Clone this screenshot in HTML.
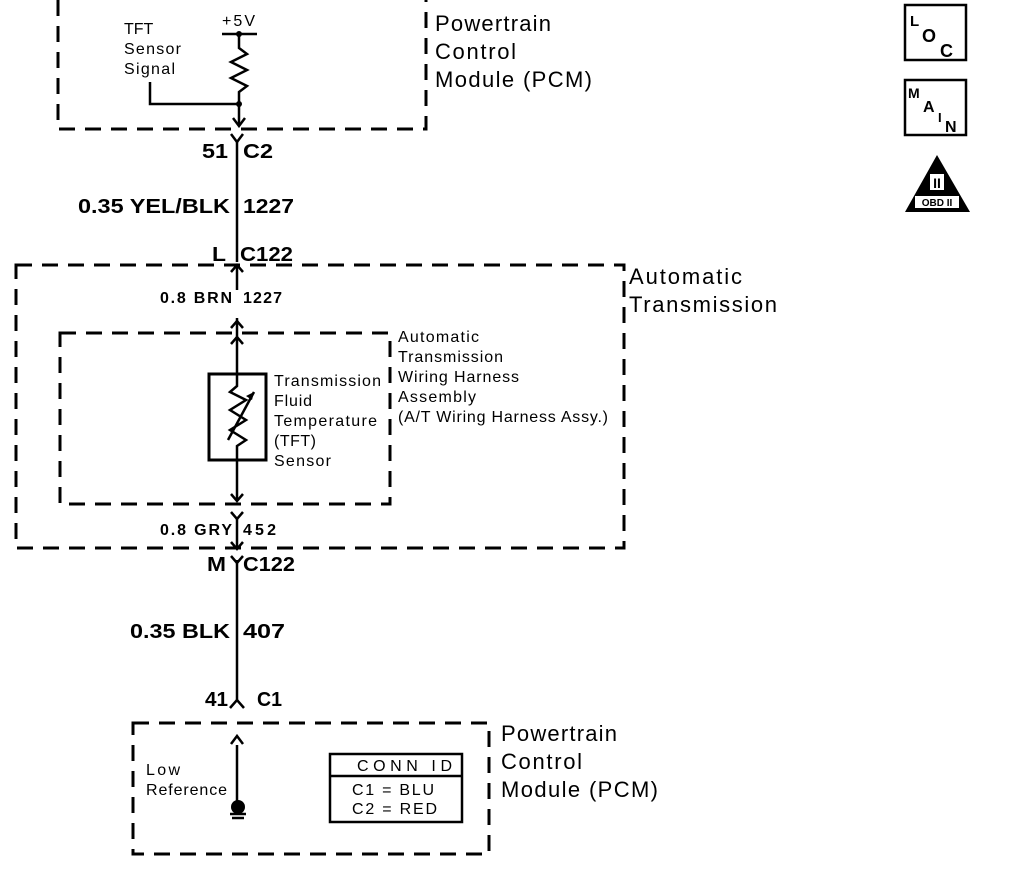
<!DOCTYPE html>
<html><head><style>body{margin:0;background:#fff}svg{display:block}text{font-family:"Liberation Sans",Arial,sans-serif;fill:#000}</style></head>
<body>
<svg width="1024" height="870" viewBox="0 0 1024 870" xmlns="http://www.w3.org/2000/svg">
<g fill="none" stroke="#000" stroke-width="3" stroke-dasharray="16,10">
<path d="M58,0 V129 H426 V0"/>
<rect x="16" y="265" width="608" height="283"/>
<rect x="60" y="333" width="330" height="171"/>
<rect x="133" y="723" width="356" height="131"/>
</g>
<g fill="none" stroke="#000" stroke-width="2.5">
<line x1="222" y1="34" x2="257" y2="34"/>
<path d="M239,34 V48 L247,54 L231,62 L247,70 L231,78 L247,86 L239,92 V104"/>
<path d="M150,82 V104 H239 V126"/>
<path d="M233,118 L239,126 L245,118"/>
<path d="M237,140 V262"/>
<path d="M231,134 L237,142 L243,134"/>
<path d="M231,272 L237,265 L243,272"/>
<path d="M237,265 V290"/>
<path d="M237,318 V374"/>
<path d="M231,328 L237,321 L243,328"/>
<path d="M231,344 L237,337 L243,344"/>
<rect x="209" y="374" width="57" height="86" stroke-width="3"/>
<path d="M237,374 V386 L230,392 L246,400 L230,410 L246,420 L230,430 L246,440 L237,446 V460"/>
<path d="M228,440 L254,392"/>
<path d="M237,460 V500"/>
<path d="M231,494 L237,501 L243,494"/>
<path d="M231,512 L237,519 L243,512"/>
<path d="M237,519 V548"/>
<path d="M231,542 L237,549 L243,542"/>
<path d="M231,556 L237,563 L243,556"/>
<path d="M237,560 V700"/>
<path d="M230,708 L237,700 L244,708"/>
<path d="M237,745 V802"/>
<path d="M231,744 L237,736 L243,744"/>
<line x1="230" y1="814" x2="246" y2="814"/>
<line x1="232" y1="818" x2="244" y2="818"/>
<rect x="330" y="754" width="132" height="68"/>
<line x1="330" y1="776" x2="462" y2="776"/>
<rect x="905" y="5" width="61" height="55"/>
<rect x="905" y="80" width="61" height="55"/>
</g>
<path d="M254,392 L246,396 L252,400Z" fill="#000"/>
<circle cx="239" cy="34" r="3" fill="#000"/>
<circle cx="239" cy="104" r="3" fill="#000"/>
<circle cx="238" cy="807" r="7" fill="#000"/>
<path d="M937,155 L905,212 L970,212Z" fill="#000"/>
<rect x="915" y="196" width="44" height="12" fill="#fff"/>
<text x="937" y="206" font-size="10" font-weight="bold" text-anchor="middle">OBD II</text>
<rect x="930" y="174" width="14" height="16" fill="#fff"/>
<text x="937" y="188" font-size="14" font-weight="bold" text-anchor="middle">II</text>
<g font-weight="bold">
<text x="910" y="26" font-size="15">L</text><text x="922" y="42" font-size="18">O</text><text x="940" y="57" font-size="18">C</text>
<text x="908" y="98" font-size="14">M</text><text x="923" y="112" font-size="16">A</text><text x="938" y="122" font-size="13">I</text><text x="945" y="132" font-size="16">N</text>
</g>
<g font-size="22" lengthAdjust="spacingAndGlyphs">
<text x="435" y="31" textLength="116">Powertrain</text><text x="435" y="59" textLength="81">Control</text><text x="435" y="87" textLength="157">Module (PCM)</text>
<text x="629" y="284" textLength="113">Automatic</text><text x="629" y="312" textLength="148">Transmission</text>
<text x="501" y="741" textLength="116">Powertrain</text><text x="501" y="769" textLength="81">Control</text><text x="501" y="797" textLength="157">Module (PCM)</text>
</g>
<g font-size="20" font-weight="bold">
<text x="202" y="158" textLength="26" lengthAdjust="spacingAndGlyphs">51</text><text x="243" y="158" textLength="30" lengthAdjust="spacingAndGlyphs">C2</text>
<text x="78" y="213" textLength="152" lengthAdjust="spacingAndGlyphs">0.35 YEL/BLK</text><text x="243" y="213" textLength="51" lengthAdjust="spacingAndGlyphs">1227</text>
<text x="212" y="261" textLength="14" lengthAdjust="spacingAndGlyphs">L</text><text x="240" y="261" textLength="53" lengthAdjust="spacingAndGlyphs">C122</text>
<text x="207" y="571" textLength="19" lengthAdjust="spacingAndGlyphs">M</text><text x="243" y="571" textLength="52" lengthAdjust="spacingAndGlyphs">C122</text>
<text x="130" y="638" textLength="100" lengthAdjust="spacingAndGlyphs">0.35 BLK</text><text x="243" y="638" textLength="42" lengthAdjust="spacingAndGlyphs">407</text>
<text x="205" y="706" textLength="23" lengthAdjust="spacingAndGlyphs">41</text><text x="257" y="706" textLength="25" lengthAdjust="spacingAndGlyphs">C1</text>
</g>
<g font-size="16" lengthAdjust="spacingAndGlyphs">
<text x="124" y="34">TFT</text><text x="124" y="54" textLength="57">Sensor</text><text x="124" y="74" textLength="51">Signal</text>
<text x="222" y="26" textLength="33">+5V</text>
<text x="160" y="303" textLength="72" font-weight="bold">0.8 BRN</text><text x="243" y="303" textLength="39" font-weight="bold">1227</text>
<text x="160" y="535" textLength="72" font-weight="bold">0.8 GRY</text><text x="243" y="535" textLength="33" font-weight="bold">452</text>
<text x="274" y="386" textLength="107">Transmission</text><text x="274" y="406" textLength="38">Fluid</text><text x="274" y="426" textLength="103">Temperature</text><text x="274" y="446" textLength="42">(TFT)</text><text x="274" y="466" textLength="57">Sensor</text>
<text x="398" y="342" textLength="81">Automatic</text><text x="398" y="362" textLength="105">Transmission</text><text x="398" y="382" textLength="121">Wiring Harness</text><text x="398" y="402" textLength="78">Assembly</text><text x="398" y="422" textLength="210">(A/T Wiring Harness Assy.)</text>
<text x="146" y="775" textLength="34">Low</text><text x="146" y="795" textLength="81">Reference</text>
<text x="357" y="771" textLength="95">CONN ID</text>
<text x="352" y="795" textLength="82">C1 = BLU</text>
<text x="352" y="814" textLength="85">C2 = RED</text>
</g>
</svg>
</body></html>
